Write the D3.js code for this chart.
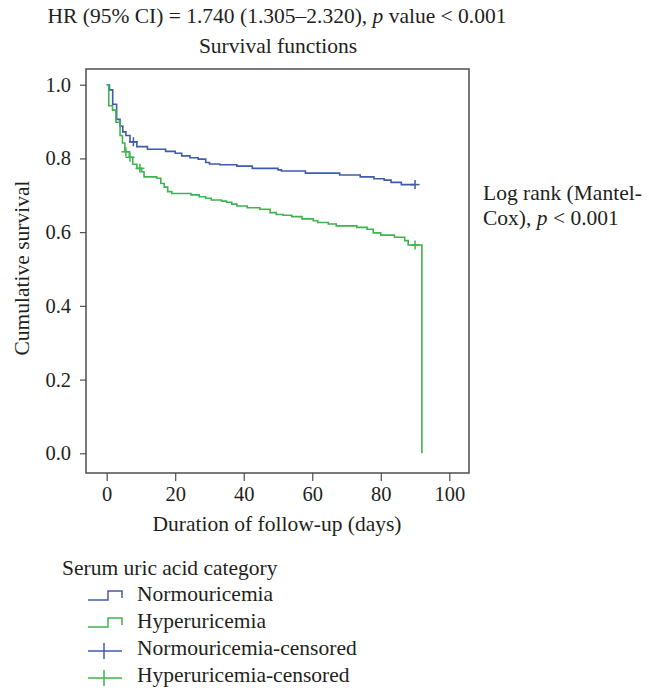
<!DOCTYPE html>
<html>
<head>
<meta charset="utf-8">
<script src="https://cdn.jsdelivr.net/npm/d3@7"></script>
<style>
  body { margin: 0; background: #fff; }
  text { font-family: "Liberation Serif", "Times New Roman", serif; fill: #231f20; }
</style>
</head>
<body>
<div id="chart"></div>
<script>
// Normouricemia: event times (days) and survival after each step
const normoTimes = [0, 0.8, 1.75, 2.9, 3.9, 4.7, 5.6, 6.8, 8.8, 11.9, 17.2, 20, 21.9, 24.3, 26.7, 28.9, 30, 33, 38, 42.5, 50, 51, 58, 68, 74, 78, 81, 83, 86, 90];
const normoSurv  = [1, 0.986, 0.947, 0.906, 0.888, 0.872, 0.862, 0.845, 0.832, 0.825, 0.819, 0.814, 0.807, 0.802, 0.798, 0.789, 0.785, 0.783, 0.779, 0.773, 0.769, 0.766, 0.760, 0.755, 0.750, 0.745, 0.741, 0.735, 0.729, 0.729];
const normoCensored = [7.8, 90];

// Hyperuricemia
const hyperTimes = [0, 0.6, 1.7, 2.7, 3.9, 4.6, 5.3, 6.6, 7.6, 8.8, 10.2, 10.9, 14.6, 15.8, 16.8, 17.8, 19, 24.6, 27, 28.9, 30.5, 33.5, 35, 36.5, 38, 41, 44.7, 47.7, 49.5, 51.5, 54, 57, 60.3, 61.6, 64.7, 67, 73, 76, 77.8, 80, 84, 87, 88, 92];
const hyperSurv  = [1, 0.943, 0.931, 0.898, 0.862, 0.842, 0.818, 0.803, 0.784, 0.773, 0.764, 0.750, 0.746, 0.732, 0.722, 0.710, 0.705, 0.701, 0.696, 0.692, 0.687, 0.684, 0.681, 0.676, 0.671, 0.666, 0.662, 0.653, 0.648, 0.646, 0.642, 0.636, 0.631, 0.626, 0.622, 0.617, 0.613, 0.608, 0.598, 0.592, 0.586, 0.577, 0.565, 0];
const hyperCensored = [5.6, 6.8, 9.7, 90];

const xTicks = [0, 20, 40, 60, 80, 100];
const yTicks = [0, 0.2, 0.4, 0.6, 0.8, 1.0];
const legendLabels = ["Normouricemia", "Hyperuricemia", "Normouricemia-censored", "Hyperuricemia-censored"];

const blue = "#3f5bab", green = "#3fb34f";
const fontSize = "21.5px";
const width = 649, height = 688;
const frame = {left: 86, right: 469, top: 69, bottom: 473};

const svg = d3.select("#chart").append("svg")
    .attr("width", width)
    .attr("height", height);

const xScale = d3.scaleLinear().domain([-6.04, 105.75]).range([frame.left, frame.right]);
const yScale = d3.scaleLinear().domain([-0.0535, 1.0426]).range([frame.bottom, frame.top]);

// titles
const title = svg.append("text").attr("x", 277).attr("y", 23).attr("text-anchor", "middle").style("font-size", fontSize);
title.append("tspan").text("HR (95% CI) = 1.740 (1.305\u20132.320), ");
title.append("tspan").style("font-style", "italic").text("p");
title.append("tspan").text(" value < 0.001");

svg.append("text").attr("x", 278).attr("y", 53).attr("text-anchor", "middle")
    .style("font-size", fontSize).text("Survival functions");

// axes
const xAxisG = svg.append("g")
    .attr("transform", "translate(0," + frame.bottom + ")")
    .call(d3.axisBottom(xScale).tickValues(xTicks).tickSize(8).tickPadding(5).tickFormat(d3.format("d")));
const yAxisG = svg.append("g")
    .attr("transform", "translate(" + frame.left + ",0)")
    .call(d3.axisLeft(yScale).tickValues(yTicks).tickSize(6).tickPadding(9).tickFormat(d3.format(".1f")));
[xAxisG, yAxisG].forEach(g => {
    g.select(".domain").remove();
    g.selectAll(".tick line").attr("stroke", "#4d4d4d").attr("stroke-width", 1.2);
    g.selectAll(".tick text").style("font-size", "20.5px").style("font-family", "Liberation Serif, serif").attr("fill", "#231f20");
});

// frame
svg.append("rect")
    .attr("x", frame.left).attr("y", frame.top)
    .attr("width", frame.right - frame.left).attr("height", frame.bottom - frame.top)
    .attr("fill", "none").attr("stroke", "#4d4d4d").attr("stroke-width", 1.5);

// axis titles
svg.append("text").attr("x", 277).attr("y", 531).attr("text-anchor", "middle")
    .style("font-size", fontSize).text("Duration of follow-up (days)");
svg.append("text").attr("transform", "translate(29,268) rotate(-90)").attr("text-anchor", "middle")
    .style("font-size", fontSize).text("Cumulative survival");

// curves
const line = d3.line()
    .x(d => xScale(d[0]))
    .y(d => yScale(d[1]))
    .curve(d3.curveStepAfter);

const survAt = (times, surv, t) => {
    let s = surv[0];
    for (let i = 0; i < times.length; i++) { if (times[i] <= t) s = surv[i]; }
    return s;
};

const groups = [
    {times: normoTimes, surv: normoSurv, censored: normoCensored, color: blue},
    {times: hyperTimes, surv: hyperSurv, censored: hyperCensored, color: green}
];

const plotG = svg.append("g");
groups.forEach(g => {
    plotG.append("path")
        .datum(d3.zip(g.times, g.surv))
        .attr("d", line)
        .attr("fill", "none")
        .attr("stroke", g.color)
        .attr("stroke-width", 1.6);
    // censor marks sit on the curve at their time
    const marks = g.censored.map(t => [t, survAt(g.times, g.surv, t)]);
    const mg = plotG.selectAll(null).data(marks).join("g")
        .attr("transform", d => "translate(" + xScale(d[0]) + "," + yScale(d[1]) + ")");
    mg.append("line").attr("x1", -4.5).attr("x2", 4.5).attr("stroke", g.color).attr("stroke-width", 1.5);
    mg.append("line").attr("y1", -4.5).attr("y2", 4.5).attr("stroke", g.color).attr("stroke-width", 1.5);
});

// log rank note
const note = svg.append("text").attr("x", 483).attr("y", 200).style("font-size", fontSize);
note.append("tspan").text("Log rank (Mantel-");
const note2 = svg.append("text").attr("x", 483).attr("y", 225).style("font-size", fontSize);
note2.append("tspan").text("Cox), ");
note2.append("tspan").style("font-style", "italic").text("p");
note2.append("tspan").text(" < 0.001");

// legend
svg.append("text").attr("x", 62).attr("y", 575).style("font-size", fontSize).text("Serum uric acid category");
const legendG = svg.append("g");
const rowY = [594, 621, 648, 675];
legendLabels.forEach((lab, i) => {
    const color = i % 2 === 0 ? blue : green;
    const y = rowY[i];
    if (i < 2) {
        legendG.append("path")
            .attr("d", "M88," + (y + 6) + "H108V" + (y - 3) + "H122V" + (y + 4))
            .attr("fill", "none").attr("stroke", color).attr("stroke-width", 1.5);
    } else {
        legendG.append("line").attr("x1", 88).attr("x2", 122).attr("y1", y + 3).attr("y2", y + 3)
            .attr("stroke", color).attr("stroke-width", 1.5);
        legendG.append("line").attr("x1", 104).attr("x2", 104).attr("y1", y - 5).attr("y2", y + 11)
            .attr("stroke", color).attr("stroke-width", 1.5);
    }
    legendG.append("text").attr("x", 137).attr("y", y + 7).style("font-size", fontSize).text(lab);
});
</script>
</body>
</html>
